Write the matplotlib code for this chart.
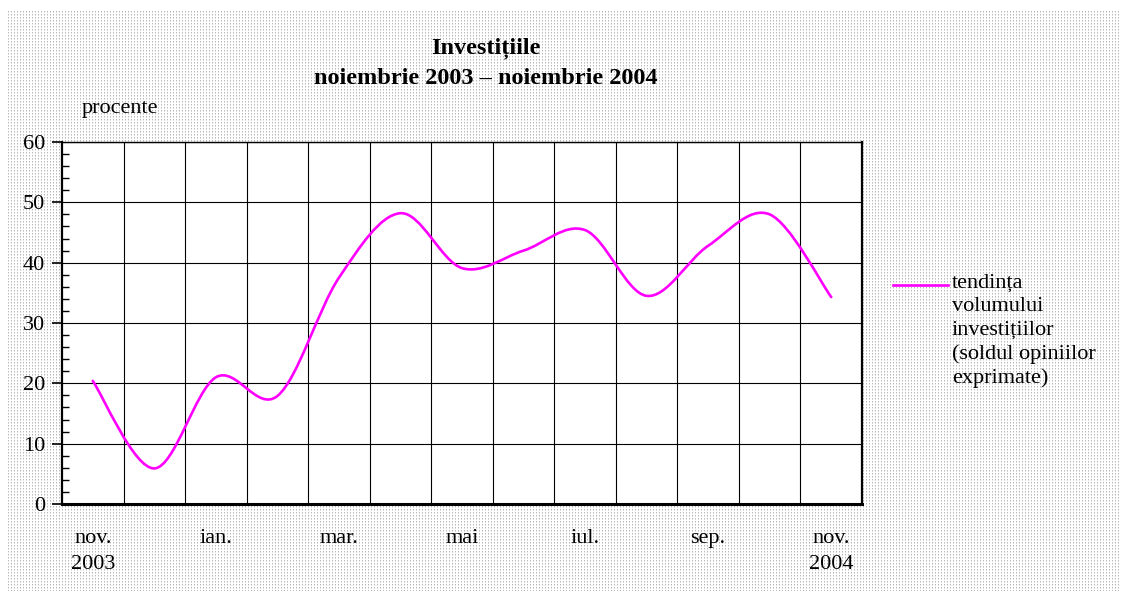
import numpy as np
import matplotlib
matplotlib.use('Agg')
import matplotlib.pyplot as plt
from matplotlib.path import Path
from matplotlib.patches import PathPatch
from matplotlib.lines import Line2D
from matplotlib.ticker import MultipleLocator, FixedLocator

plt.rcParams['font.family'] = ['Liberation Serif', 'DejaVu Serif']

# Data
months = ['nov.\n2003', 'dec.', 'ian.', 'feb.', 'mar.', 'apr.', 'mai',
          'iun.', 'iul.', 'aug.', 'sep.', 'oct.', 'nov.\n2004']
values = [20.4, 5.9, 21.0, 17.9, 37.5, 48.2, 39.1, 42.0, 45.4, 34.5, 42.8, 48.0, 34.3]
label_idx = [0, 2, 4, 6, 8, 10, 12]
series_label = 'tendința\nvolumului\ninvestițiilor\n(soldul opiniilor\nexprimate)'

W, H = 1126, 596
fig = plt.figure(figsize=(W / 100, H / 100), dpi=100)
fig.patch.set_facecolor('white')

# dotted background pattern
bg = np.ones((H, W))
bg[11:591:3, 8:1119:3] = 0.72
bg[12:591:3, 8:1119:3] = 0.86
fig.figimage(bg, cmap='gray', vmin=0, vmax=1, zorder=0)

ax = fig.add_axes([62 / W, 1 - 504 / H, 800 / W, 362 / H])
ax.set_zorder(2)
ax.set_facecolor('white')

x = np.arange(len(values))
y = np.array(values, dtype=float)

# smoothed line (Excel style bezier)
xp = np.concatenate([[x[0]], x, [x[-1]]])
yp = np.concatenate([[y[0]], y, [y[-1]]])
verts = [(x[0], y[0])]
codes = [Path.MOVETO]
for i in range(len(x) - 1):
    j = i + 1
    c1 = (x[i] + (xp[j + 1] - xp[j - 1]) / 6, y[i] + (yp[j + 1] - yp[j - 1]) / 6)
    c2 = (x[i + 1] - (xp[j + 2] - xp[j]) / 6, y[i + 1] - (yp[j + 2] - yp[j]) / 6)
    verts += [c1, c2, (x[i + 1], y[i + 1])]
    codes += [Path.CURVE4] * 3
ax.add_patch(PathPatch(Path(verts, codes), facecolor='none', edgecolor='#ff00ff',
                       lw=1.9, zorder=3, capstyle='round'))

ax.set_xlim(-0.5, len(values) - 0.5)
ax.set_ylim(0, 60)

# grid
ax.set_xticks(label_idx)
ax.set_xticklabels([months[i] for i in label_idx], fontsize=16, linespacing=1.5)
ax.xaxis.set_minor_locator(FixedLocator(np.arange(0.5, len(values) - 1, 1)))
ax.tick_params(axis='x', which='both', length=0, pad=18)
ax.xaxis.grid(True, which='minor', color='black', lw=0.8)
ax.yaxis.set_major_locator(MultipleLocator(10))
ax.yaxis.set_minor_locator(MultipleLocator(2))
ax.yaxis.grid(True, which='major', color='black', lw=0.8)
ax.tick_params(axis='y', which='major', direction='out', length=7, width=1.2,
               labelsize=16, pad=5)
ax.tick_params(axis='y', which='minor', direction='in', length=5, width=1.0)
ax.set_axisbelow(True)

for s in ['left', 'right']:
    ax.spines[s].set_linewidth(1.6)
ax.spines['bottom'].set_linewidth(2.2)
ax.spines['top'].set_linewidth(1.0)

# titles
fig.text(486 / W, 1 - 48 / H, 'Investițiile', ha='center', va='center',
         fontsize=17.5, fontweight='bold')
fig.text(486 / W, 1 - 79 / H, 'noiembrie 2003 – noiembrie 2004', ha='center',
         va='center', fontsize=17.5, fontweight='bold')
fig.text(82 / W, 1 - 108 / H, 'procente', ha='left', va='center', fontsize=16)

# legend
fig.add_artist(Line2D([893 / W, 948 / W], [1 - 285 / H, 1 - 285 / H],
                      color='#ff00ff', lw=1.9, transform=fig.transFigure))
fig.text(952 / W, 1 - 274 / H, series_label, ha='left', va='top', fontsize=16,
         linespacing=1.3)

fig.savefig('out.png', dpi=100, facecolor='white')
